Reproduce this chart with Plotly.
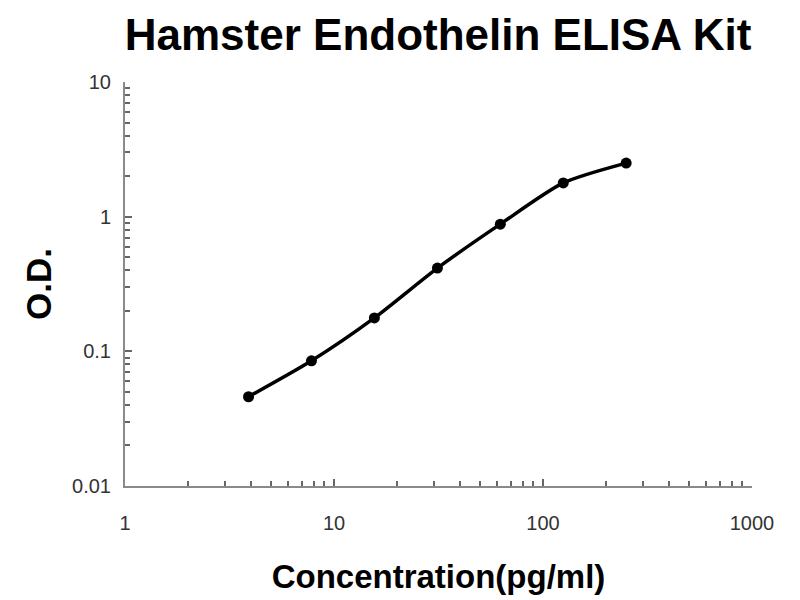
import plotly.graph_objects as go

concentration = [3.9, 7.8, 15.6, 31.25, 62.5, 125, 250]
od = [0.046, 0.085, 0.177, 0.415, 0.88, 1.78, 2.5]

x_ticks = [1, 10, 100, 1000]
x_labels = ["1", "10", "100", "1000"]
y_ticks = [0.01, 0.1, 1, 10]
y_labels = ["0.01", "0.1", "1", "10"]
minor_mult = [2, 3, 4, 5, 6, 7, 8, 9]
x_minor = [m * t for t in x_ticks[:-1] for m in minor_mult]
y_minor = [m * t for t in y_ticks[:-1] for m in minor_mult]

fig = go.Figure()
fig.add_trace(go.Scatter(
    x=concentration, y=od, mode="lines+markers",
    line=dict(color="black", width=3.5, shape="spline", smoothing=0.7),
    marker=dict(color="black", size=11),
    showlegend=False,
))

def axis_common(minor_vals):
    return dict(
        showgrid=False, zeroline=False, showline=True, linecolor="#8a8a8a", linewidth=2,
        ticks="inside", ticklen=7, tickwidth=1.5, tickcolor="#666",
        tickfont=dict(family="Liberation Sans, Arial", size=20, color="#333"),
        minor=dict(ticks="inside", ticklen=5, tickwidth=1.5, tickcolor="#666",
                   showgrid=False, tickvals=minor_vals),
    )

fig.update_xaxes(type="log", range=[0, 3], tickvals=x_ticks, ticktext=x_labels,
                 ticklabelstandoff=18,
                 title=dict(text="<b>Concentration(pg/ml)</b>", standoff=32,
                            font=dict(family="Liberation Sans, Arial", size=33, color="black")),
                 **axis_common(x_minor))
fig.update_yaxes(type="log", range=[-2, 1], tickvals=y_ticks, ticktext=y_labels,
                 ticklabelstandoff=8,
                 title=dict(text="<b>O.D.</b>", standoff=10,
                            font=dict(family="Liberation Sans, Arial", size=35, color="black")),
                 **axis_common(y_minor))

fig.update_layout(
    width=792, height=592,
    paper_bgcolor="white", plot_bgcolor="white",
    margin=dict(l=117, r=48, t=74, b=114),
    title=dict(text="<b>Hamster Endothelin ELISA Kit</b>", x=0.543, xanchor="center",
               y=0.955, yanchor="middle",
               font=dict(family="Liberation Sans, Arial", size=44, color="black")),
)

fig.write_html("out.html")
